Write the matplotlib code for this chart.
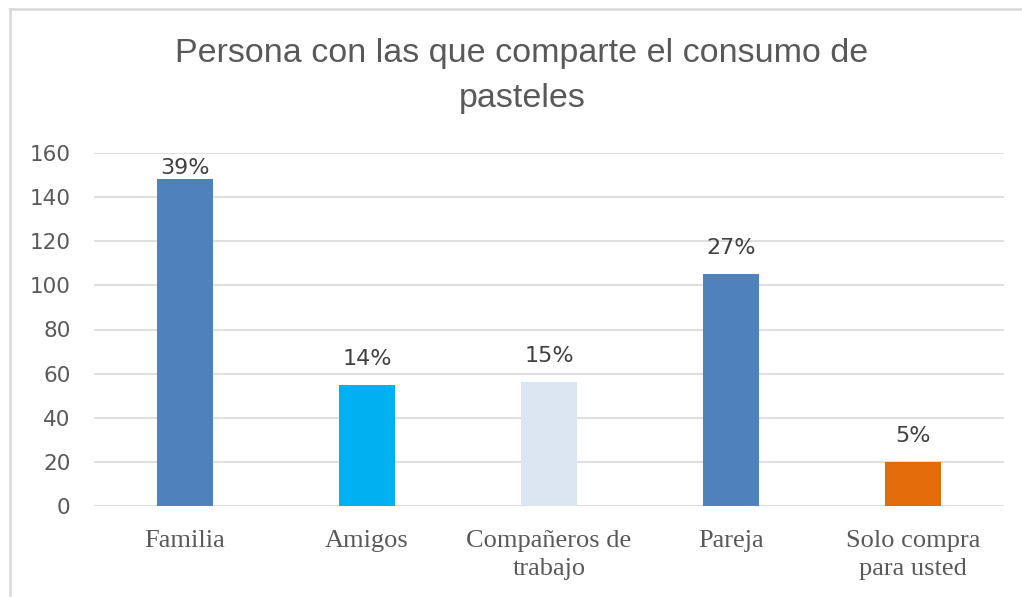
import matplotlib
matplotlib.use("Agg")
import matplotlib.pyplot as plt
from matplotlib.lines import Line2D

# Survey: with whom the cake is shared
categories = ["Familia", "Amigos", "Compañeros de\ntrabajo", "Pareja", "Solo compra\npara usted"]
counts = [148, 55, 56, 105, 20]
bar_colors = ["#4f81bd", "#00b0f0", "#dce6f2", "#4f81bd", "#e36c0a"]
title = "Persona con las que comparte el consumo de\npasteles"
y_ticks = [0, 20, 40, 60, 80, 100, 120, 140, 160]

total = sum(counts)
percent_labels = [f"{round(100 * c / total):.0f}%" for c in counts]

W, H, DPI = 1022, 597, 100
fig = plt.figure(figsize=(W / DPI, H / DPI), dpi=DPI)
fig.patch.set_facecolor("white")

# plot area in pixel coordinates
left, right, bottom, top = 94, 1004, 506, 153
ax = fig.add_axes([left / W, 1 - bottom / H, (right - left) / W, (bottom - top) / H])

x = list(range(len(categories)))
ax.bar(x, counts, width=0.31, color=bar_colors, zorder=3)

ymax = 160
ax.set_xlim(-0.5, len(categories) - 0.5)
ax.set_ylim(0, ymax)
ax.set_yticks(y_ticks)
ax.yaxis.grid(True, color="#d9d9d9", linewidth=1.2, zorder=0)
ax.set_axisbelow(True)
for s in ax.spines.values():
    s.set_visible(False)

ax.tick_params(axis="y", length=0, pad=17, labelsize=15.5, labelcolor="#595959")
for lbl in ax.get_yticklabels():
    lbl.set_fontfamily("DejaVu Sans")

ax.set_xticks(x)
ax.set_xticklabels(categories, fontsize=19, color="#595959",
                   family="Liberation Serif", linespacing=1.35)
ax.tick_params(axis="x", length=0, pad=17)

# value labels sit above each bar, kept inside the plot area
for xi, c, lab in zip(x, counts, percent_labels):
    y_lab = min(c + 7.3, ymax - 11.5)
    ax.text(xi, y_lab, lab, ha="center", va="bottom", fontsize=16,
            color="#404040", family="DejaVu Sans", zorder=4)

fig.text(522 / W, 1 - 38 / H, title, ha="center", va="top", fontsize=24.5,
         color="#595959", family="Liberation Sans", linespacing=1.58)

# chart frame (top and left edges)
fig.add_artist(Line2D([10 / W, 10 / W], [0, 1 - 9 / H], transform=fig.transFigure,
                      color="#d9d9d9", linewidth=1.8))
fig.add_artist(Line2D([10 / W, 1], [1 - 9 / H, 1 - 9 / H], transform=fig.transFigure,
                      color="#d9d9d9", linewidth=1.8))

fig.savefig("out.png", dpi=DPI, facecolor="white")
